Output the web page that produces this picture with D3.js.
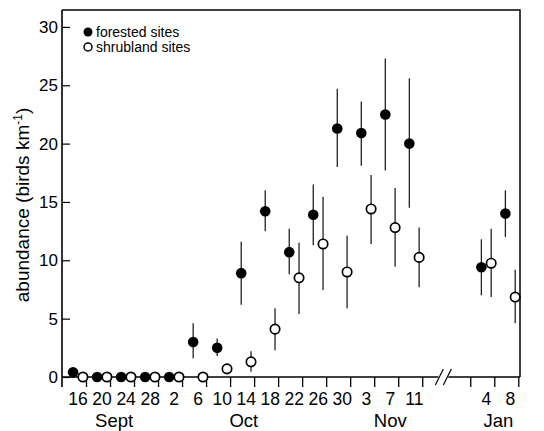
<!DOCTYPE html>
<html>
<head>
<meta charset="utf-8">
<script src="https://cdn.jsdelivr.net/npm/d3@7.9.0/dist/d3.min.js"></script>
<style>
  body { margin: 0; background: #fff; }
  svg { font-family: "Liberation Sans", Arial, sans-serif; }
</style>
</head>
<body>
<svg width="544" height="431"></svg>
<script>
// sampling dates (index along the x axis; gap before January)
const dayLabels = ['16', '20', '24', '28', '2', '6', '10', '14', '18', '22', '26', '30', '3', '7', '11', '4', '8'];
const dayIndex = [0, 1, 2, 3, 4, 5, 6, 7, 8, 9, 10, 11, 12, 13, 14, 17, 18];
const monthLabels = ['Sept', 'Oct', 'Nov', 'Jan'];
const monthIndex = [1.5, 6.9, 13, 17.5];
const yTicks = [0, 5, 10, 15, 20, 25, 30];

// forested sites (mean, lower, upper)
const forested   = [0.4, 0, 0, 0, 0, 3.0, 2.5, 8.9, 14.2, 10.7, 13.9, 21.3, 20.9, 22.5, 20.0, 9.4, 14.0];
const forestedLo = [null, null, null, null, null, 1.6, 1.8, 6.2, 12.5, 8.8, 11.3, 18.0, 18.1, 17.7, 14.5, 7.0, 12.0];
const forestedHi = [null, null, null, null, null, 4.6, 3.3, 11.6, 16.0, 12.7, 16.5, 24.7, 23.6, 27.3, 25.6, 11.8, 16.0];

// shrubland sites
const shrub   = [0, 0, 0, 0, 0, 0, 0.7, 1.3, 4.1, 8.5, 11.4, 9.0, 14.4, 12.8, 10.25, 9.75, 6.85];
const shrubLo = [null, null, null, null, null, null, null, 0.45, 2.3, 5.4, 7.45, 5.9, 11.4, 9.45, 7.7, 6.85, 4.6];
const shrubHi = [null, null, null, null, null, null, null, 2.2, 5.9, 11.5, 15.45, 12.1, 17.3, 16.2, 12.8, 12.7, 9.2];

const svg = d3.select('svg');
const m = { left: 62, right: 520, top: 10, bottom: 377 };

const x = d3.scaleLinear().domain([-0.67, 18.4]).range([m.left, m.right]);
const y = d3.scaleLinear().domain([0, 30]).range([m.bottom, m.bottom - 30 * 11.67]);

// frame: top and right lines
svg.append('path')
    .attr('d', `M${m.left},${m.top}H${m.right}V${m.bottom}`)
    .attr('fill', 'none').attr('stroke', '#000').attr('stroke-width', 1.5);

// y axis, ticks pointing inward
const yAxis = svg.append('g').attr('transform', `translate(${m.left},0)`)
    .call(d3.axisRight(y).tickValues(yTicks).tickSize(8).tickSizeOuter(0).tickFormat(d3.format('d')));
yAxis.select('.domain').attr('stroke-width', 1.6).attr('d', `M0,${m.top}V${m.bottom + 10}`);
yAxis.selectAll('.tick line').attr('stroke-width', 1.2);
yAxis.selectAll('.tick text').attr('x', -4).attr('text-anchor', 'end')
    .attr('font-size', 17).attr('fill', '#000');

// x axis line
svg.append('line')
    .attr('x1', m.left).attr('x2', m.right).attr('y1', m.bottom).attr('y2', m.bottom)
    .attr('stroke', '#000').attr('stroke-width', 1.6);

// x ticks (between sampling dates), skipping the break
const tickPos = d3.range(0, 19).filter(i => i !== 15).map(i => i + 0.35);
svg.selectAll('.xtick').data(tickPos).join('line')
    .attr('class', 'xtick')
    .attr('x1', d => x(d)).attr('x2', d => x(d))
    .attr('y1', m.bottom).attr('y2', m.bottom + 10)
    .attr('stroke', '#000').attr('stroke-width', 1.3);

// axis break mark
const bx = x(15.25);
svg.append('rect').attr('x', bx - 6).attr('y', m.bottom - 3).attr('width', 10).attr('height', 6).attr('fill', '#fff');
[-5, 3].forEach(dx => {
    svg.append('line')
        .attr('x1', bx + dx - 4).attr('y1', m.bottom + 8)
        .attr('x2', bx + dx + 4).attr('y2', m.bottom - 8)
        .attr('stroke', '#000').attr('stroke-width', 1.2);
});

// day labels
svg.selectAll('.day').data(dayLabels).join('text')
    .attr('class', 'day')
    .attr('x', (d, i) => x(dayIndex[i]))
    .attr('y', 405)
    .attr('text-anchor', 'middle')
    .attr('font-size', 17.5)
    .text(d => d);

// month labels
svg.selectAll('.month').data(monthLabels).join('text')
    .attr('class', 'month')
    .attr('x', (d, i) => x(monthIndex[i]))
    .attr('y', 427)
    .attr('text-anchor', 'middle')
    .attr('font-size', 18.5)
    .text(d => d);

// y axis title
const title = svg.append('text')
    .attr('transform', `translate(29,205) rotate(-90)`)
    .attr('text-anchor', 'middle')
    .attr('font-size', 19);
title.append('tspan').text('abundance (birds km');
title.append('tspan').attr('font-size', 12).attr('dy', -7).text('-1');
title.append('tspan').attr('dy', 7).text(')');

// error bars + points
function drawSeries(vals, lo, hi, dx, filled) {
    const g = svg.append('g');
    vals.forEach((v, i) => {
        const cx = x(dayIndex[i]) + dx;
        if (lo[i] != null) {
            g.append('line')
                .attr('x1', cx).attr('x2', cx)
                .attr('y1', y(lo[i])).attr('y2', y(hi[i]))
                .attr('stroke', '#222').attr('stroke-width', 1.3);
        }
        g.append('circle')
            .attr('cx', cx).attr('cy', y(v)).attr('r', filled ? 5.3 : 4.7)
            .attr('fill', filled ? '#000' : '#fff')
            .attr('stroke', '#000').attr('stroke-width', filled ? 0 : 1.7);
    });
}
drawSeries(forested, forestedLo, forestedHi, -5, true);
drawSeries(shrub, shrubLo, shrubHi, 4.8, false);

// legend
const legend = svg.append('g');
legend.append('circle').attr('cx', 88).attr('cy', 32).attr('r', 4.5).attr('fill', '#000');
legend.append('circle').attr('cx', 88).attr('cy', 47).attr('r', 4).attr('fill', '#fff')
    .attr('stroke', '#000').attr('stroke-width', 1.5);
legend.append('text').attr('x', 96).attr('y', 37).attr('font-size', 14).text('forested sites');
legend.append('text').attr('x', 96).attr('y', 52).attr('font-size', 14).text('shrubland sites');
</script>
</body>
</html>
